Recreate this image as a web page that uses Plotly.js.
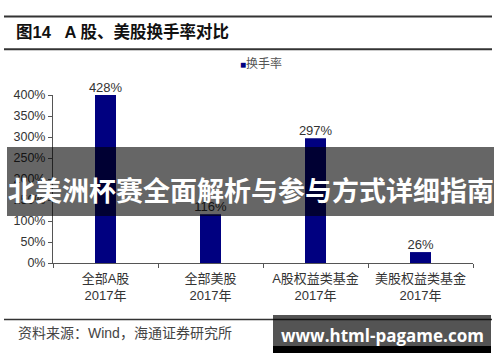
<!DOCTYPE html>
<html>
<head>
<meta charset="utf-8">
<script src="https://cdn.plot.ly/plotly-3.0.1.min.js"></script>
<style>
html,body{margin:0;padding:0;background:#fff;}
#chart{width:500px;height:362px;}
</style>
</head>
<body>
<div id="chart"></div>
<script>
// ---- data ----
const categories = ["全部A股<br>2017年", "全部美股<br>2017年", "A股权益类基金<br>2017年", "美股权益类基金<br>2017年"];
const turnover = [428, 116, 297, 26];
const valueLabels = ["428%", "116%", "297%", "26%"];
const yTickVals = [0, 50, 100, 150, 200, 250, 300, 350, 400];
const yTickText = ["0%", "50%", "100%", "150%", "200%", "250%", "300%", "350%", "400%"];
const seriesName = "换手率";
const chartTitle = "图14&nbsp;&nbsp;&nbsp;A 股、美股换手率对比";
const sourceText = "资料来源：Wind，海通证券研究所";
const bannerText = "北美洲杯赛全面解析与参与方式详细指南";
const watermarkText = "www.html-pagame.com";

const yMax = 400;
const navy = "#000080";
const cjk = "'Liberation Sans', 'Noto Sans CJK SC', sans-serif";

// plot area in pixels: x 53..473, y 95..263
const L = 53, R = 473, T = 95, B = 263;
const px = x => (x - L) / (R - L);
const py = y => (B - y) / (B - T);

const traces = [
  {
    type: "bar",
    x: categories,
    y: turnover,
    name: seriesName,
    marker: {color: navy},
    width: 0.2,
    showlegend: false
  },
  {
    type: "scatter",
    mode: "text",
    x: categories,
    y: turnover.map(v => Math.min(v, yMax)),
    text: valueLabels,
    textposition: "top center",
    textfont: {family: cjk, size: 13, color: "#333"},
    cliponaxis: false,
    showlegend: false
  }
];

const layout = {
  width: 500, height: 362,
  margin: {l: L, r: 500 - R, t: T, b: 362 - B},
  paper_bgcolor: "#fff",
  plot_bgcolor: "#fff",
  font: {family: cjk, color: "#333"},
  showlegend: false,
  title: {
    text: chartTitle,
    x: 16 / 500, xanchor: "left", xref: "container",
    y: 1 - 32 / 362, yanchor: "middle", yref: "container",
    font: {family: cjk, size: 16.5, color: "#111", weight: "bold"}
  },
  xaxis: {
    type: "category",
    showline: true, linecolor: "#555", linewidth: 1,
    ticks: "outside", tickson: "boundaries", ticklen: 4, tickcolor: "#555",
    showgrid: false, zeroline: false,
    tickfont: {family: cjk, size: 13, color: "#333"},
    ticklabelstandoff: 3
  },
  yaxis: {
    range: [0, yMax],
    tickvals: yTickVals, ticktext: yTickText,
    showline: true, linecolor: "#555", linewidth: 1,
    ticks: "outside", ticklen: 4, tickcolor: "#555",
    showgrid: false, zeroline: false,
    tickfont: {family: cjk, size: 12.5, color: "#333"}
  },
  shapes: [
    {type: "line", xref: "paper", yref: "paper", x0: px(4), x1: px(492), y0: py(16.5), y1: py(16.5), line: {color: "#333", width: 2}},
    {type: "line", xref: "paper", yref: "paper", x0: px(4), x1: px(492), y0: py(49.3), y1: py(49.3), line: {color: "#333", width: 2}},
    {type: "line", xref: "paper", yref: "paper", x0: px(4), x1: px(492), y0: py(319.5), y1: py(319.5), line: {color: "#333", width: 1.5}},
    {type: "rect", xref: "paper", yref: "paper", layer: "above", x0: px(7), x1: px(494), y0: py(147), y1: py(216), fillcolor: "rgba(0,0,0,0.6)", line: {width: 0}},
    {type: "rect", xref: "paper", yref: "paper", layer: "above", x0: px(273), x1: px(491), y0: py(315), y1: py(346), fillcolor: "rgba(0,0,0,0.67)", line: {width: 0}},
    {type: "rect", xref: "paper", yref: "paper", layer: "above", x0: px(273), x1: px(491), y0: py(346), y1: py(353), fillcolor: "#000", line: {width: 0}}
  ],
  annotations: [
    {xref: "paper", yref: "paper", x: px(238), y: py(63), xanchor: "left", yanchor: "middle", showarrow: false,
     text: '<span style="color:' + navy + ';font-size:10px">■</span>' + seriesName,
     font: {family: cjk, size: 12, color: "#555"}},
    {xref: "paper", yref: "paper", x: px(16), y: py(333), xanchor: "left", yanchor: "middle", showarrow: false,
     text: sourceText, font: {family: cjk, size: 14, color: "#444"}},
    {xref: "paper", yref: "paper", x: px(250.5), y: py(189), xanchor: "center", yanchor: "middle", showarrow: false,
     text: bannerText, font: {family: "'Noto Sans CJK SC', sans-serif", size: 27, color: "#fff", weight: "bold"}},
    {xref: "paper", yref: "paper", x: px(382), y: py(335), xanchor: "center", yanchor: "middle", showarrow: false,
     text: watermarkText, font: {family: "'Open Sans', sans-serif", size: 17, color: "#fff", weight: "bold"}}
  ]
};

Plotly.newPlot("chart", traces, layout, {staticPlot: true, displayModeBar: false});
</script>
</body>
</html>
